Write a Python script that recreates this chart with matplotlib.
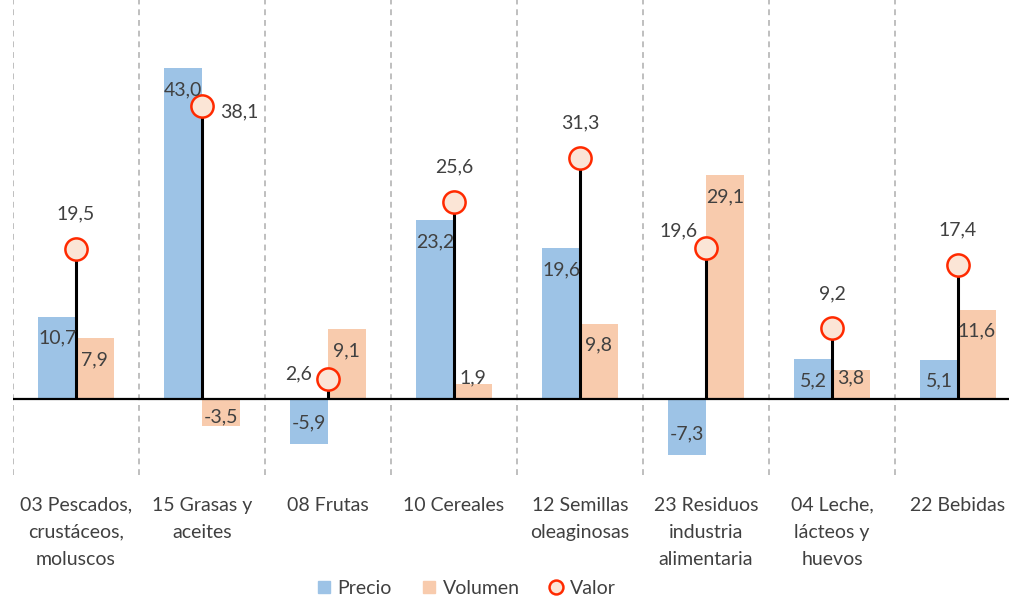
import matplotlib
matplotlib.use("Agg")
import matplotlib.pyplot as plt
from matplotlib.lines import Line2D
import numpy as np

categories = ["03 Pescados,\ncrustáceos,\nmoluscos", "15 Grasas y\naceites", "08 Frutas",
              "10 Cereales", "12 Semillas\noleaginosas", "23 Residuos\nindustria\nalimentaria",
              "04 Leche,\nlácteos y\nhuevos", "22 Bebidas"]
precio = [10.7, 43.0, -5.9, 23.2, 19.6, -7.3, 5.2, 5.1]
volumen = [7.9, -3.5, 9.1, 1.9, 9.8, 29.1, 3.8, 11.6]
valor = [19.5, 38.1, 2.6, 25.6, 31.3, 19.6, 9.2, 17.4]

BLUE = "#9DC3E6"
ORANGE = "#F8CBAD"
RED = "#FF2A00"
PEACH = "#FBE5D6"
TXT = "#404040"
FONT = "Lato"
FS = 14

plt.rcParams['font.family'] = [FONT, 'DejaVu Sans']

W, H = 1009, 596
fig = plt.figure(figsize=(W / 100, H / 100), dpi=100)
ax = fig.add_axes([13 / W, 1 - 475 / H, (1021 - 13) / W, 475 / H])

x = np.arange(len(categories))
bw = 0.3
ax.bar(x - bw / 2, precio, width=bw, color=BLUE, zorder=2)
ax.bar(x + bw / 2, volumen, width=bw, color=ORANGE, zorder=2)

ax.set_xlim(-0.5, 7.5)
ax.set_ylim(-(475 - 399) / 7.7, 399 / 7.7)

for b in np.arange(-0.5, 8.0, 1.0):
    ax.axvline(b, color="#BFBFBF", lw=1.4, ls=(0, (3, 2.5)), zorder=1)
ax.axhline(0, color="black", lw=1.6, zorder=3)

# stems and markers
for xi, v in zip(x, valor):
    ax.plot([xi, xi], [0, v], color="black", lw=2.2, zorder=4, solid_capstyle="butt")
ax.plot(x, valor, ls="none", marker="o", ms=16, mfc=PEACH, mec=RED, mew=1.8, zorder=5)

def bar_label(xc, v):
    if abs(v) < 5:
        y = 2.8 if v > 0 else -2.3
    else:
        y = v - np.sign(v) * 2.8
    ax.text(xc, y, f"{v:.1f}".replace(".", ","), ha="center", va="center",
            fontsize=FS, color=TXT, zorder=6)

for xi, p, q in zip(x, precio, volumen):
    bar_label(xi - bw / 2, p)
    bar_label(xi + bw / 2, q)

for i, (xi, v) in enumerate(zip(x, valor)):
    s = f"{v:.1f}".replace(".", ",")
    if i == 1:
        ax.text(xi + 0.14, v - 0.8, s, ha="left", va="center", fontsize=FS, color=TXT, zorder=6)
    elif i == 2:
        ax.text(xi - 0.13, v + 0.7, s, ha="right", va="center", fontsize=FS, color=TXT, zorder=6)
    elif i == 5:
        ax.text(xi - 0.07, v + 2.2, s, ha="right", va="center", fontsize=FS, color=TXT, zorder=6)
    else:
        ax.text(xi, v + 4.5, s, ha="center", va="center", fontsize=FS, color=TXT, zorder=6)

ax.set_xticks(x)
ax.set_xticklabels(categories, fontsize=FS, color=TXT, linespacing=1.72)
ax.tick_params(axis="x", length=0, pad=15.5)
ax.set_yticks([])
for sp in ax.spines.values():
    sp.set_visible(False)

handles = [
    Line2D([], [], ls="none", marker="s", ms=9, mfc=BLUE, mec=BLUE),
    Line2D([], [], ls="none", marker="s", ms=9, mfc=ORANGE, mec=ORANGE),
    Line2D([], [], ls="none", marker="o", ms=10, mfc=PEACH, mec=RED, mew=1.8),
]
leg = fig.legend(handles, ["Precio", "Volumen", "Valor"], loc="center",
                 bbox_to_anchor=(466 / W, 1 - 588 / H), ncol=3, frameon=False,
                 fontsize=FS, handlelength=0.8, handletextpad=0.3, columnspacing=1.5,
                 borderpad=0)
for t in leg.get_texts():
    t.set_color(TXT)

fig.savefig("out.png", dpi=100)
